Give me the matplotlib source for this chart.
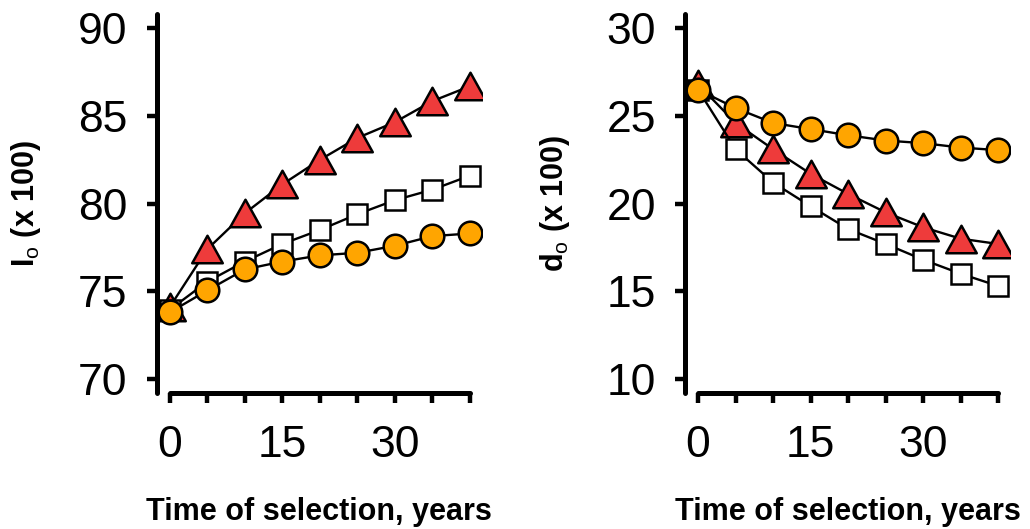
import numpy as np
import matplotlib as mpl
mpl.use("Agg")
import matplotlib.pyplot as plt
from matplotlib.path import Path

RED, ORANGE, INK = "#EE3B3B", "#FFA500", "#000000"

mpl.rcParams.update({
    "font.family": ["Liberation Sans", "DejaVu Sans"],
    "mathtext.fontset": "custom", "mathtext.rm": "Liberation Sans",
    "figure.facecolor": "white", "axes.facecolor": "white",
})

# --- data ------------------------------------------------------------------
years = [0, 5, 10, 15, 20, 25, 30, 35, 40]

I0_tri = [74.1, 77.4, 79.45, 81.1, 82.5, 83.75, 84.65, 85.85, 86.7]
I0_sq = [73.95, 75.55, 76.7, 77.7, 78.5, 79.4, 80.2, 80.8, 81.6]
I0_circ = [73.8, 75.05, 76.25, 76.7, 77.05, 77.2, 77.6, 78.15, 78.3]

d0_tri = [26.8, 24.6, 23.1, 21.7, 20.55, 19.5, 18.65, 18.0, 17.7]
d0_sq = [26.5, 23.1, 21.2, 19.85, 18.55, 17.7, 16.8, 16.0, 15.3]
d0_circ = [26.5, 25.45, 24.6, 24.25, 23.9, 23.6, 23.45, 23.2, 23.05]

I0_ticks = [70, 75, 80, 85, 90]
d0_ticks = [10, 15, 20, 25, 30]
x_ticks = [0, 5, 10, 15, 20, 25, 30, 35, 40]
x_labels = ["0", "", "", "15", "", "", "30", "", ""]

# slightly squat triangle marker
TRI = Path([(0, 0.9), (-1, -0.9), (1, -0.9), (0, 0.9)],
           [Path.MOVETO, Path.LINETO, Path.LINETO, Path.CLOSEPOLY])


def panel(ax, tri, sq, circ, ticks, ylabel):
    kw = dict(color=INK, lw=1.7, mec=INK, mew=1.8)
    ax.plot(years, tri, marker=TRI, ms=22, mfc=RED, **kw)
    ax.plot(years, sq, marker="s", ms=15, mfc="white", **kw)
    ax.plot(years, circ, marker="o", ms=17, mfc=ORANGE, **kw)

    ax.set_xlim(-1.75, 41.6)
    ax.set_ylim(ticks[0] - 0.8, ticks[-1] + 0.8)
    ax.spines["top"].set_visible(False)
    ax.spines["right"].set_visible(False)
    for s in ("left", "bottom"):
        ax.spines[s].set_linewidth(3.6)
        ax.spines[s].set_capstyle("round")
    ax.spines["bottom"].set_bounds(0, 40)

    ax.set_yticks(ticks)
    ax.set_xticks(x_ticks)
    ax.set_xticklabels(x_labels)
    ax.tick_params(axis="y", direction="out", length=7, width=3.2,
                   labelsize=32, pad=14)
    ax.tick_params(axis="x", direction="out", length=7, width=3.2,
                   labelsize=32, pad=16)

    ax.set_xlabel("Time of selection, years", fontsize=22, fontweight="bold",
                  va="center")
    ax.xaxis.set_label_coords(0.5, -0.315)
    ax.set_ylabel(ylabel, fontsize=22, fontweight="bold", va="center",
                  rotation_mode="default")
    ax.yaxis.set_label_coords(-0.40, 0.5)


fig = plt.figure(figsize=(10.3, 5.29), dpi=100)
a0 = fig.add_axes([0.152, 0.257, 0.316, 0.716])
a1 = fig.add_axes([0.665, 0.257, 0.316, 0.716])

panel(a0, I0_tri, I0_sq, I0_circ, I0_ticks, r"I$_\mathrm{o}$ (x 100)")
panel(a1, d0_tri, d0_sq, d0_circ, d0_ticks, r"d$_\mathrm{o}$ (x 100)")

fig.savefig("out.png", dpi=100)
